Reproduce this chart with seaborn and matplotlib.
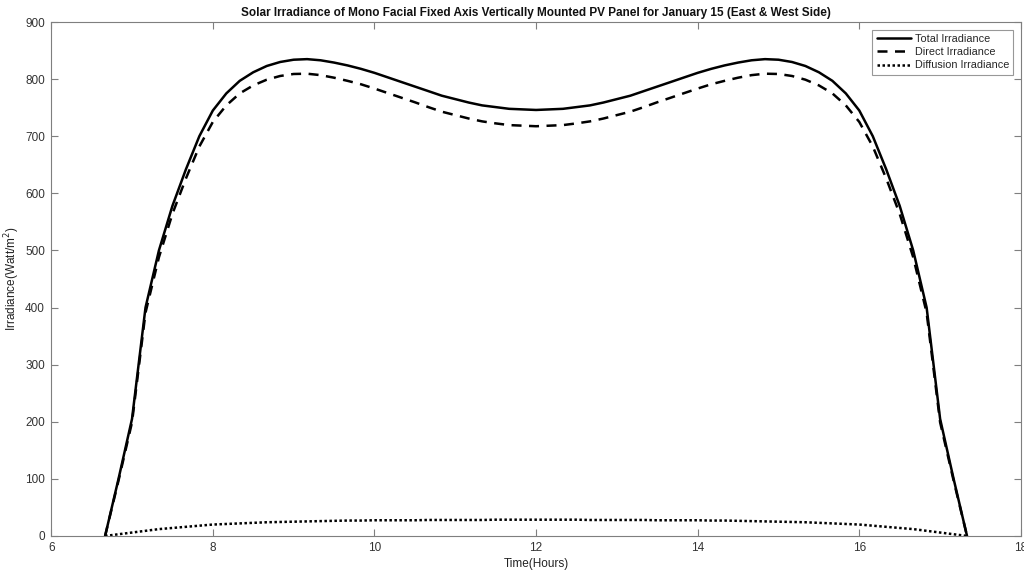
import matplotlib
matplotlib.use("Agg")
import matplotlib.pyplot as plt
import seaborn as sns
import numpy as np
import pandas as pd

# time in hours (10-minute steps from 6:40 to 17:20)
hours = [6.667, 6.833, 7.0, 7.167, 7.333, 7.5, 7.667, 7.833, 8.0, 8.167, 8.333, 8.5,
         8.667, 8.833, 9.0, 9.167, 9.333, 9.5, 9.667, 9.833, 10.0, 10.167, 10.333, 10.5,
         10.667, 10.833, 11.0, 11.167, 11.333, 11.5, 11.667, 11.833, 12.0,
         12.167, 12.333, 12.5, 12.667, 12.833, 13.0, 13.167, 13.333, 13.5, 13.667, 13.833,
         14.0, 14.167, 14.333, 14.5, 14.667, 14.833, 15.0, 15.167, 15.333, 15.5, 15.667,
         15.833, 16.0, 16.167, 16.333, 16.5, 16.667, 16.833, 17.0, 17.167, 17.333]

total_irr = [0, 100, 205, 400, 500, 578, 642, 700, 745, 775, 797, 812,
             823, 830, 834, 835, 833, 829, 824, 818, 811, 803, 795, 787,
             779, 771, 765, 759, 754, 751, 748, 747, 746,
             747, 748, 751, 754, 759, 765, 771, 779, 787, 795, 803,
             811, 818, 824, 829, 833, 835, 834, 830, 823, 812, 797,
             775, 745, 700, 642, 578, 500, 400, 205, 100, 0]

direct_irr = [0, 97, 199, 391, 488, 564, 626, 682, 725, 754, 775, 789,
              799, 805.5, 809, 809.5, 807, 802.5, 797, 791, 783.5, 775.5, 767.5, 759.5,
              751, 743, 737, 731, 726, 722.5, 719.5, 718.5, 717.5,
              718.5, 719.5, 722.5, 726, 731, 737, 743, 751, 759.5, 767.5, 775.5,
              783.5, 791, 797, 802.5, 807, 809.5, 809, 805.5, 799, 789, 775,
              754, 725, 682, 626, 564, 488, 391, 199, 97, 0]

diffuse_irr = [0, 3, 6, 9, 12, 14, 16, 18, 20, 21, 22, 23,
               24, 24.5, 25, 25.5, 26, 26.5, 27, 27, 27.5, 27.5, 27.5, 27.5,
               28, 28, 28, 28, 28, 28.5, 28.5, 28.5, 28.5,
               28.5, 28.5, 28.5, 28, 28, 28, 28, 28, 27.5, 27.5, 27.5,
               27.5, 27, 27, 26.5, 26, 25.5, 25, 24.5, 24, 23, 22,
               21, 20, 18, 16, 14, 12, 9, 6, 3, 0]

series_names = ["Total Irradiance", "Direct Irradiance", "Diffusion Irradiance"]

sns.set_theme(style="white")
plt.rcParams['font.family'] = ['Liberation Sans', 'DejaVu Sans']

fig = plt.figure(figsize=(10.24, 5.72), dpi=100)
ax = fig.add_axes([0.050, 0.063, 0.947, 0.8985])

df = pd.DataFrame({"Time": hours, "Total": total_irr, "Direct": direct_irr, "Diffuse": diffuse_irr})

sns.lineplot(data=df, x="Time", y="Total", ax=ax, color="black", linewidth=1.8,
             label=series_names[0])
sns.lineplot(data=df, x="Time", y="Direct", ax=ax, color="black", linewidth=1.8,
             linestyle=(0, (4, 3)), label=series_names[1])
sns.lineplot(data=df, x="Time", y="Diffuse", ax=ax, color="black", linewidth=1.8,
             linestyle=(0, (1, 1)), label=series_names[2])

ax.set_xlim(6, 18)
ax.set_ylim(0, 900)
ax.set_xticks([6, 8, 10, 12, 14, 16, 18])
ax.set_yticks(range(0, 901, 100))

gray = "#7f7f7f"
for s in ax.spines.values():
    s.set_color(gray)
    s.set_linewidth(0.8)
ax.tick_params(axis="both", which="both", direction="in", length=5, width=0.8,
               color=gray, labelcolor="#333333", labelsize=8.5,
               top=True, right=True, bottom=True, left=True)
ax.tick_params(axis="x", pad=4)
ax.tick_params(axis="y", pad=4.5)

ax.set_xlabel("Time(Hours)", fontsize=8.5, color="#222222", labelpad=3)
ax.set_ylabel("Irradiance(Watt/m$^2$)", fontsize=8.5, color="#222222", labelpad=2)
ax.set_title("Solar Irradiance of Mono Facial Fixed Axis Vertically Mounted PV Panel for January 15 (East & West Side)",
             fontsize=8.5, fontweight="bold", color="#111111", pad=4)

leg = ax.legend(loc="upper right", fontsize=7.8, frameon=True, fancybox=False,
                handlelength=3.2, handletextpad=0.3, borderpad=0.4, labelspacing=0.3,
                borderaxespad=0.7)
leg.get_frame().set_edgecolor(gray)
leg.get_frame().set_linewidth(0.8)

fig.savefig("out.png", dpi=100, facecolor="white")
